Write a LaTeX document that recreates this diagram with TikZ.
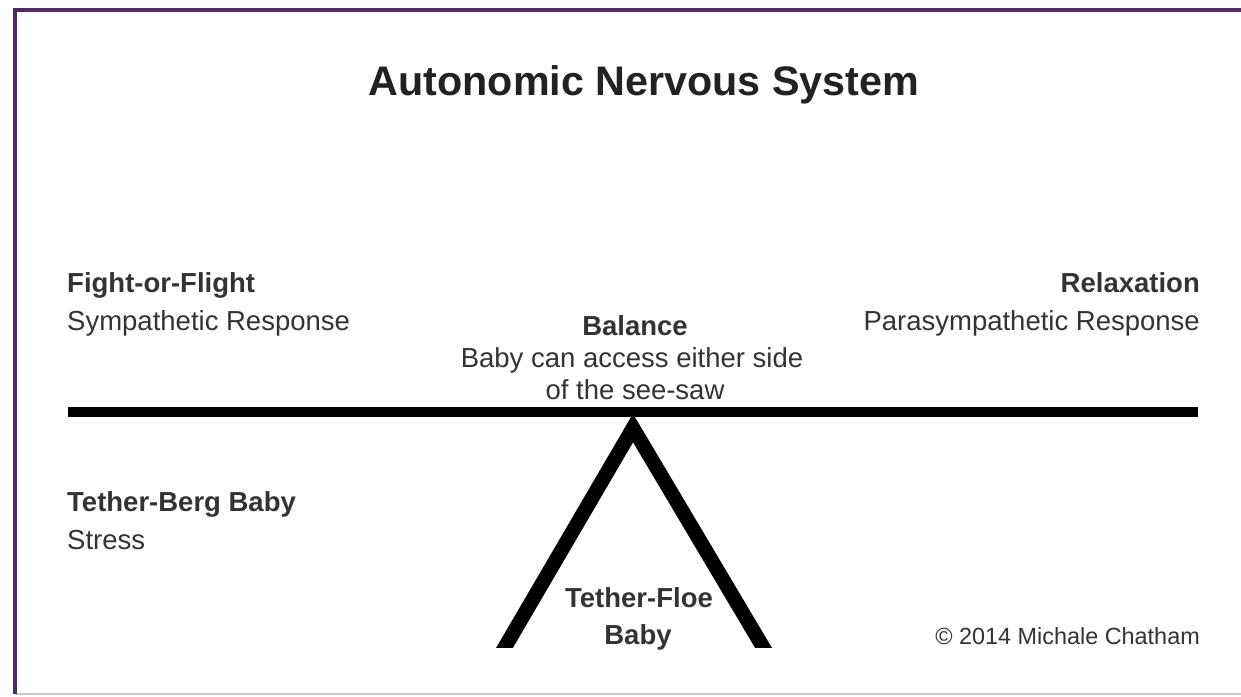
\documentclass[tikz,border=0pt]{standalone}
\usepackage{fontspec}
\setmainfont{Liberation Sans}
\definecolor{framepurple}{RGB}{78,42,108}
\definecolor{textgray}{RGB}{51,51,51}
\definecolor{titlegray}{RGB}{34,34,34}
\definecolor{edgegray}{RGB}{200,200,205}
\tikzset{
  txt/.style={inner sep=0pt, text=textgray, font=\fontsize{27.5}{33}\selectfont},
  boldtxt/.style={txt, font=\fontsize{27.5}{33}\selectfont\bfseries},
  smalltxt/.style={txt, font=\fontsize{23.4}{28}\selectfont},
  titletxt/.style={inner sep=0pt, text=titlegray, font=\fontsize{41.3}{48}\selectfont\bfseries},
  framestyle/.style={draw=framepurple, line width=4pt},
  beamstyle/.style={draw=black, line width=10pt},
  legstyle/.style={draw=black, line width=14.5pt, line join=miter, miter limit=10},
}
\begin{document}
\begin{tikzpicture}[x=1pt, y=-1pt]
\useasboundingbox (0,0) rectangle (1241,696);
\fill[white] (0,0) rectangle (1241,696);
% frame
\draw[edgegray, line width=1.5pt] (15,694) -- (1241,694);
\draw[framestyle] (1241,10) -- (15,10) -- (15,694);
% title
\node[titletxt, anchor=base] (title) at (644,95) {Autonomic Nervous System};
% left labels
\node[boldtxt, anchor=base west] (fight) at (67,292) {Fight-or-Flight};
\node[txt, anchor=base west] (symp) at (67,330) {Sympathetic Response};
\node[boldtxt, anchor=base west] (berg) at (67,511) {Tether-Berg Baby};
\node[txt, anchor=base west] (stress) at (67,549) {Stress};
% right labels
\node[boldtxt, anchor=base east] (relax) at (1200,292) {Relaxation};
\node[txt, anchor=base east] (para) at (1200,330) {Parasympathetic Response};
% centre labels
\node[boldtxt, anchor=base] (balance) at (635,335) {Balance};
\node[txt, anchor=base] (access) at (632,367) {Baby can access either side};
\node[txt, anchor=base] (seesaw) at (635,399) {of the see-saw};
\node[boldtxt, anchor=base] (floe) at (639,607) {Tether-Floe};
\node[boldtxt, anchor=base] (baby) at (638,644) {Baby};
\node[smalltxt, anchor=base east] (copy) at (1200,644.5) {© 2014 Michale Chatham};
% see-saw
\coordinate (apex) at (633,428);
\coordinate (legl) at (497.4,660);
\coordinate (legr) at (770.7,660);
\begin{scope}
\clip (400,380) rectangle (900,647);
\draw[legstyle] (legl) -- (apex) -- (legr);
\end{scope}
\coordinate (beaml) at (68,412);
\coordinate (beamr) at (1198,412);
\draw[beamstyle] (beaml) -- (beamr);
\end{tikzpicture}
\end{document}
